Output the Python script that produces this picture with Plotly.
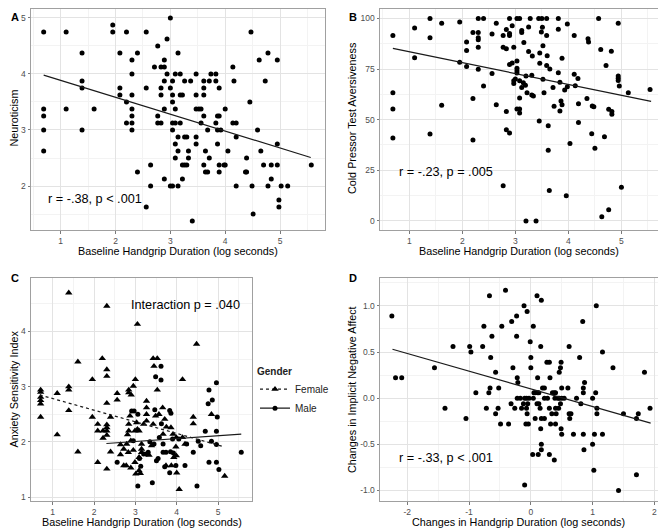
import plotly.graph_objects as go

# ---------------- Panel A: Neuroticism vs baseline handgrip ----------------
a_x = [0.69, 0.69, 0.69, 0.69, 0.69,
       1.10, 1.10,
       1.39, 1.39, 1.39, 1.39,
       1.61,
       1.95, 1.95,
       2.08, 2.08, 2.08,
       2.20, 2.20, 2.20,
       2.30, 2.30, 2.30, 2.30, 2.30, 2.30, 2.30,
       2.40, 2.40,
       2.56, 2.56, 2.56,
       2.64, 2.64,
       2.71,
       2.77, 2.77, 2.77,
       2.83, 2.83, 2.83, 2.83,
       2.89, 2.89, 2.89, 2.89, 2.89,
       2.94, 2.94,
       3.00, 3.00, 3.00,
       3.04, 3.04, 3.04, 3.04, 3.04, 3.04,
       3.09, 3.09, 3.09, 3.09, 3.09,
       3.14, 3.14, 3.14, 3.14,
       3.18, 3.18, 3.18,
       3.22, 3.22, 3.22,
       3.26, 3.26, 3.26,
       3.30, 3.30,
       3.33, 3.33,
       3.37,
       3.40,
       3.47, 3.47, 3.47, 3.47, 3.47,
       3.52,
       3.56, 3.56,
       3.61, 3.61, 3.61, 3.61, 3.61,
       3.64, 3.64,
       3.68, 3.68,
       3.71, 3.71,
       3.74,
       3.83, 3.83, 3.83,
       3.86, 3.86, 3.86,
       3.89, 3.89, 3.89, 3.89,
       3.92,
       3.98,
       4.00, 4.00,
       4.05,
       4.14, 4.14,
       4.16,
       4.20, 4.20, 4.20,
       4.37,
       4.39, 4.39,
       4.45, 4.47, 4.49, 4.51, 4.59, 4.62, 4.65, 4.70, 4.73,
       4.78, 4.78,
       4.84, 4.84,
       4.95, 4.95, 4.95,
       4.98, 4.98,
       5.02, 5.14, 5.57]
a_y = [4.75, 3.375, 3.25, 3.0, 2.625,
       4.75, 3.375,
       4.375, 3.875, 3.75, 3.0,
       3.375,
       4.875, 4.75,
       4.375, 3.75, 3.625,
       4.75, 3.5, 3.125,
       4.25, 4.0, 3.625, 3.375, 3.25, 3.125, 3.0,
       4.375, 2.25,
       4.75, 3.75, 1.625,
       2.375, 2.0,
       4.125,
       4.5, 3.25, 3.125,
       4.125, 3.75, 3.625, 3.125,
       4.25, 4.125, 3.875, 3.375, 2.125,
       4.625, 4.0,
       5.0, 3.75, 2.0,
       3.875, 3.625, 3.5, 3.125, 3.0, 2.0,
       4.0, 3.375, 3.125, 2.75, 2.5,
       4.375, 2.875, 2.625, 2.0,
       4.0, 3.625, 3.125,
       3.625, 2.375, 2.125,
       3.875, 2.875, 2.375,
       2.875, 2.375,
       2.625, 2.5,
       3.875,
       1.375,
       4.0, 3.625, 3.375, 2.875, 2.75,
       3.375,
       3.375, 3.125,
       3.875, 3.75, 3.625, 3.25, 2.375,
       2.625, 2.25,
       2.25, 3.0,
       3.875, 2.5,
       4.0,
       4.0, 3.875, 3.125,
       3.25, 3.0, 2.75,
       3.75, 3.25, 2.375, 2.25,
       3.0,
       2.375,
       3.375, 2.375,
       2.625,
       4.125, 3.125,
       3.875,
       3.125, 2.875, 2.0,
       2.25,
       2.5, 2.25,
       3.5, 4.75, 2.0, 1.5, 3.0, 4.25, 2.625, 2.375, 3.875,
       4.375, 2.0,
       2.375, 2.125,
       4.25, 2.75, 2.375,
       1.75, 1.625,
       2.0, 2.0, 2.375]
a_fit_x = [0.69, 5.56]
a_fit_y = [3.98, 2.51]

# ---------------- Panel B: Cold pressor aversiveness ----------------
b_x = [0.69, 0.69, 0.69, 0.69,
       1.10, 1.10,
       1.39, 1.39, 1.39,
       1.61, 1.61,
       1.95, 1.95,
       2.08, 2.08, 2.08,
       2.20, 2.20, 2.20,
       2.30, 2.30, 2.30, 2.30, 2.30, 2.30,
       2.40, 2.40,
       2.56, 2.56,
       2.64, 2.64,
       2.77, 2.77, 2.77,
       2.83, 2.83, 2.83, 2.83,
       2.89, 2.89, 2.89, 2.89, 2.89,
       2.94, 2.94,
       2.97, 2.97, 2.97,
       3.00,
       3.03, 3.03, 3.03, 3.03, 3.03, 3.03,
       3.08, 3.08, 3.08, 3.08, 3.08,
       3.12, 3.12, 3.12,
       3.15, 3.16, 3.19,
       3.20, 3.20,
       3.22,
       3.25, 3.25,
       3.28,
       3.31, 3.31,
       3.32, 3.34, 3.39, 3.44, 3.45,
       3.46, 3.46,
       3.49, 3.50, 3.51,
       3.52, 3.52,
       3.54,
       3.59, 3.59, 3.59,
       3.60,
       3.62, 3.62,
       3.64, 3.65, 3.71, 3.73,
       3.81, 3.81, 3.81,
       3.84, 3.84,
       3.86,
       3.88, 3.88,
       3.93, 3.96,
       3.98, 3.98,
       4.03,
       4.11, 4.11,
       4.13, 4.18,
       4.19, 4.19,
       4.35, 4.37, 4.38, 4.44, 4.45, 4.48, 4.50, 4.57, 4.61, 4.63, 4.68, 4.71,
       4.76, 4.76,
       4.81,
       4.82, 4.82,
       4.94, 4.94, 4.94, 4.94,
       4.96, 5.00, 5.13, 5.54]
b_y = [91.5, 63.3, 55.3, 40.9,
       95.3, 80.6,
       100, 90.5, 42.9,
       97.6, 57.1,
       98.2, 78.3,
       88.3, 84.2, 76.3,
       93.1, 60.5, 40.0,
       100, 93.1, 90.4, 89.4, 85.8, 74.9,
       100, 66.6,
       92.3, 72.8,
       97.6, 57.3,
       91.5, 85.8, 17.3,
       94.5, 85.0, 54.0, 45.0,
       100, 92.6, 91.5, 77.2, 43.4,
       96.4, 78.0,
       85.8, 69.2, 67.9,
       70.1,
       100, 79.0, 75.4, 74.2, 73.1, 55.3,
       100, 69.2, 60.7, 55.3, 53.3,
       94.0, 93.1, 65.9,
       68.2, 88.1, 67.0,
       71.5, 0.0,
       63.3,
       95.8, 83.7,
       100,
       71.9, 62.2,
       81.4, 61.7, 0.0, 100, 49.3,
       82.9, 77.8,
       93.3, 100, 95.6,
       86.5, 70.0,
       63.3,
       100, 91.5, 76.7,
       81.6,
       47.0, 34.9,
       15.0, 75.0, 65.9, 56.6,
       100, 94.6, 73.2,
       68.5, 54.3,
       59.2,
       80.3, 57.3,
       64.6, 12.4,
       97.2, 66.2,
       38.2,
       91.5, 72.4,
       66.7, 70.3,
       57.9, 48.6,
       60.5, 90.0, 88.4, 43.1, 56.8, 56.4, 35.9, 100, 84.7, 2.0, 41.6, 76.7,
       55.1, 5.5,
       83.8,
       54.0, 52.7,
       97.6, 71.5, 70.5, 69.3,
       66.6, 16.6, 63.3, 64.9]
b_fit_x = [0.69, 5.56]
b_fit_y = [85.2, 59.0]

# ---------------- Panel C: Anxiety sensitivity by gender ----------------
c_f_x = [0.71, 0.71, 0.71, 0.71, 0.71, 0.71,
         1.11, 1.11,
         1.39, 1.39, 1.39, 1.39,
         1.61, 1.61,
         1.96, 1.96,
         2.09, 2.09, 2.09,
         2.20,
         2.22, 2.22,
         2.31, 2.31, 2.31, 2.31, 2.31, 2.31, 2.31, 2.31, 2.31,
         2.40, 2.40,
         2.56, 2.56,
         2.64, 2.64,
         2.72, 2.72,
         2.78, 2.79, 2.81, 2.83,
         2.84, 2.84, 2.84, 2.84,
         2.87,
         2.89, 2.89,
         2.90,
         2.95, 2.95,
         2.99, 2.99,
         3.00, 3.01, 3.03,
         3.05, 3.05,
         3.09, 3.09, 3.09,
         3.12,
         3.15, 3.15, 3.15,
         3.20,
         3.27, 3.27, 3.27, 3.27,
         3.33, 3.39,
         3.43, 3.43, 3.45, 3.49,
         3.53, 3.53,
         3.57, 3.66, 3.67, 3.71, 3.74, 3.75,
         3.86, 3.87, 3.91, 3.93, 3.98, 3.99, 3.99, 4.00, 4.06,
         4.14, 4.14, 4.20,
         4.40, 4.40, 4.48, 4.84, 5.16]
c_f_y = [2.94, 2.90, 2.81, 2.75, 2.69, 2.45,
         2.88, 2.13,
         4.70, 3.00, 2.94, 2.57,
         3.45, 1.82,
         3.13, 2.45,
         2.32, 2.20, 1.63,
         3.51,
         2.20, 2.07,
         4.46, 3.31, 3.19, 2.70, 2.31, 2.26, 2.20, 2.12, 1.51,
         2.45, 1.82,
         2.88, 2.76,
         1.95, 1.77,
         1.87, 1.57,
         1.57, 1.96, 2.13, 1.81,
         2.94, 2.89, 2.32, 2.20,
         2.47,
         2.02, 1.53,
         2.85,
         3.01, 1.85,
         2.20, 1.63,
         3.13, 1.42, 2.35,
         4.13, 2.23,
         2.20, 1.72, 1.48,
         1.43,
         1.96, 1.87, 1.81,
         2.32,
         2.74, 2.62, 2.50, 2.38,
         1.76, 1.93,
         3.51, 2.32, 3.37, 2.47,
         3.51, 2.94,
         2.50, 2.62, 2.14, 2.41, 1.57, 2.27,
         2.26, 1.57, 2.14, 1.72, 1.91, 2.08, 1.75, 1.44, 1.14,
         3.13, 2.08, 1.96,
         2.45, 2.33, 3.77, 2.50, 1.38]
c_m_x = [2.56, 2.91, 2.95, 2.97, 3.06, 3.06, 3.10, 3.13, 3.20, 3.27, 3.31, 3.35,
         3.41, 3.45, 3.47, 3.49, 3.51, 3.55, 3.58, 3.62, 3.62, 3.63, 3.67, 3.67,
         3.71, 3.74, 3.83, 3.83, 3.85, 3.86, 3.90, 3.92, 3.98, 4.05, 4.20, 4.24,
         4.40, 4.49, 4.52, 4.58, 4.69, 4.76, 4.78, 4.78, 4.84, 4.86, 4.96, 4.96,
         4.96, 4.96, 4.98, 5.02, 5.56]
c_m_y = [1.63, 2.56, 2.02, 2.56, 2.50, 1.20, 1.70, 1.56, 1.78, 1.78, 1.81, 2.00,
         1.26, 1.96, 2.58, 3.18, 1.66, 1.70, 2.08, 3.37, 3.12, 2.33, 1.96, 1.81,
         1.55, 1.81, 2.57, 1.44, 1.82, 2.52, 2.05, 1.80, 1.57, 2.05, 1.57, 1.96,
         1.81, 1.20, 2.01, 1.93, 2.19, 2.69, 2.94, 1.63, 2.01, 2.76, 3.07, 2.19,
         1.95, 1.63, 2.45, 1.50, 1.81]
c_f_fit_x = [0.69, 5.15]
c_f_fit_y = [2.85, 1.91]
c_m_fit_x = [2.30, 5.56]
c_m_fit_y = [1.97, 2.14]

# ---------------- Panel D: Changes ----------------
d_x = [-2.25, -2.19, -2.09, -1.56, -1.39, -1.26, -1.05, -0.99, -0.97, -0.89,
       -0.78, -0.76, -0.72, -0.67, -0.68, -0.66, -0.65, -0.63, -0.57, -0.57,
       -0.53, -0.52, -0.49, -0.47, -0.41, -0.36, -0.32, -0.31, -0.29, -0.26,
       -0.23, -0.23, -0.22, -0.21, -0.22, -0.17, -0.10, -0.07, -0.03,
       0.10, 0.17, -0.11, -0.06, 0.04, -0.01, 0.16, 0.00, 0.00, 0.26,
       0.30, 0.49, 0.48, 0.46, 0.11, 0.31, 0.19, 0.22, 0.07, 0.11,
       0.13, 0.35, 0.38, 0.40, 0.50, 0.60, 0.04, 0.22, 0.27, 0.39,
       0.44, 0.46, 0.50, 0.54, 0.74, 0.85, 0.85, 0.87, 1.00, 1.05,
       0.81, -0.05, 0.10, 0.13, 0.48, -0.07, 0.15, 0.30, 0.40, 0.45,
       1.07, 1.07, -0.06, 0.34, 0.41, 0.62, 0.65, 0.63, 0.07, 0.17,
       0.22, -0.08, -0.04, 0.32, 0.40, 0.16, 0.49, 0.50, 0.69, 0.85,
       1.03, 1.16, 0.17, 0.17, 0.86, 1.00, 0.03, 0.12, 0.30, 0.38,
       1.02, -0.10, 1.42, 1.71, 1.06, 0.84, 0.79, 1.16, 1.33, 1.84,
       1.50, 1.71, 1.74, 1.93, 0.62, 0.05, -0.15, -0.12]
d_y = [0.89, 0.22, 0.22, 0.33, -0.11, 0.56, -0.22, 0.56, 0.50, 0.06,
       0.56, 0.78, -0.11, 1.11, 0.06, 0.11, 0.44, 0.67, 0.28, -0.17,
       -0.11, 0.11, -0.28, 0.78, 1.17, -0.28, -0.06, 0.83, 0.33, -0.11,
       0.89, 0.67, 0.22, 0.17, 0.00, 0.00, 0.00, 0.00, 0.00,
       1.11, 1.06, 1.00, 0.94, 0.78, 0.61, 0.56, 0.44, 0.33, 0.39,
       0.39, 0.39, 0.33, 0.28, 0.22, 0.22, 0.11, 0.11, 0.06, 0.06,
       0.06, 0.06, 0.06, 0.06, 0.11, 0.11, 0.00, 0.00, 0.00, 0.00,
       0.00, 0.00, 0.00, 0.00, 0.00, 0.11, 0.06, 0.17, 0.00, 0.06,
       -0.06, -0.06, -0.06, -0.06, -0.06, -0.11, -0.11, -0.11, -0.11, -0.11,
       -0.11, -0.17, -0.17, -0.17, -0.17, -0.17, -0.17, -0.22, -0.22, -0.22,
       -0.22, -0.28, -0.28, -0.28, -0.28, -0.33, -0.33, -0.39, -0.39, -0.39,
       -0.39, -0.39, -0.50, -0.56, -0.56, -0.50, -0.61, -0.61, -0.61, -0.67,
       -0.78, -0.94, -1.00, -0.83, 1.00, 0.83, 0.44, 0.50, 0.33, 0.28,
       -0.17, -0.22, -0.17, -0.11, 0.56, 0.06, -0.11, -0.06]
d_fit_x = [-2.24, 1.94]
d_fit_y = [0.53, -0.27]

# ---------------- tick labels ----------------
x_ticks_log = [1, 2, 3, 4, 5]
x_ticks_log_text = ["1", "2", "3", "4", "5"]
a_yticks = [2, 3, 4, 5]
a_yticks_text = ["2", "3", "4", "5"]
b_yticks = [0, 25, 50, 75, 100]
b_yticks_text = ["0", "25", "50", "75", "100"]
c_yticks = [1, 2, 3, 4]
c_yticks_text = ["1", "2", "3", "4"]
d_xticks = [-2, -1, 0, 1, 2]
d_xticks_text = ["-2", "-1", "0", "1", "2"]
d_yticks = [-1.0, -0.5, 0.0, 0.5, 1.0]
d_yticks_text = ["-1.0", "-0.5", "0.0", "0.5", "1.0"]

FONT = "Liberation Sans, Arial, Helvetica, sans-serif"
# the page body has an 8px default margin, so the figure is drawn 8px in
PAGE_OFF = 8
W, H = 666 - PAGE_OFF, 531 - PAGE_OFF


def px_x(p):
    return (p - PAGE_OFF) / W


def px_y(p):
    return 1 - (p - PAGE_OFF) / H


def axis(domain, rng, tv, tt, minor_dtick, anchor):
    return dict(domain=domain, range=rng, anchor=anchor,
                tickmode="array", tickvals=tv, ticktext=tt,
                showgrid=True, gridcolor="#E3E3E3", gridwidth=1, zeroline=False,
                showline=True, mirror=True, linecolor="#A0A0A0", linewidth=1,
                ticks="outside", ticklen=2.5, tickcolor="#7A7A7A", tickwidth=1,
                tickfont=dict(size=8.5, color="#4D4D4D", family=FONT),
                minor=dict(tickmode="linear", tick0=0, dtick=minor_dtick,
                           showgrid=True, gridcolor="#F3F3F3", ticks=""),
                fixedrange=True)


fig = go.Figure()
mk = dict(color="black", size=5)
line_style = dict(color="#1a1a1a", width=1.2)

fig.add_trace(go.Scatter(x=a_x, y=a_y, mode="markers", marker=dict(mk, symbol="circle"),
                         xaxis="x", yaxis="y", showlegend=False))
fig.add_trace(go.Scatter(x=a_fit_x, y=a_fit_y, mode="lines", line=line_style,
                         xaxis="x", yaxis="y", showlegend=False))

fig.add_trace(go.Scatter(x=b_x, y=b_y, mode="markers", marker=dict(mk, symbol="circle"),
                         xaxis="x2", yaxis="y2", showlegend=False))
fig.add_trace(go.Scatter(x=b_fit_x, y=b_fit_y, mode="lines", line=line_style,
                         xaxis="x2", yaxis="y2", showlegend=False))

fig.add_trace(go.Scatter(x=c_f_x, y=c_f_y, mode="markers",
                         marker=dict(color="black", size=6.5, symbol="triangle-up"),
                         xaxis="x3", yaxis="y3", showlegend=False))
fig.add_trace(go.Scatter(x=c_m_x, y=c_m_y, mode="markers", marker=dict(mk, symbol="circle"),
                         xaxis="x3", yaxis="y3", showlegend=False))
fig.add_trace(go.Scatter(x=c_f_fit_x, y=c_f_fit_y, mode="lines",
                         line=dict(color="#1a1a1a", width=1.2, dash="dot"),
                         xaxis="x3", yaxis="y3", showlegend=False))
fig.add_trace(go.Scatter(x=c_m_fit_x, y=c_m_fit_y, mode="lines", line=line_style,
                         xaxis="x3", yaxis="y3", showlegend=False))
# legend entries
fig.add_trace(go.Scatter(x=[None], y=[None], mode="lines+markers", name="Female",
                         line=dict(color="#1a1a1a", width=1.2, dash="dot"),
                         marker=dict(color="black", size=6.5, symbol="triangle-up"),
                         xaxis="x3", yaxis="y3"))
fig.add_trace(go.Scatter(x=[None], y=[None], mode="lines+markers", name="Male",
                         line=line_style, marker=dict(color="black", size=5, symbol="circle"),
                         xaxis="x3", yaxis="y3"))

fig.add_trace(go.Scatter(x=d_x, y=d_y, mode="markers", marker=dict(mk, symbol="circle"),
                         xaxis="x4", yaxis="y4", showlegend=False))
fig.add_trace(go.Scatter(x=d_fit_x, y=d_fit_y, mode="lines", line=line_style,
                         xaxis="x4", yaxis="y4", showlegend=False))

top_dom = [px_y(230), px_y(8.5)]
bot_dom = [px_y(502), px_y(278)]
left_dom = [px_x(31), px_x(325)]
right_dom = [px_x(380), px_x(658)]
c_dom = [px_x(31), px_x(252)]

annotations = []
# panel letters
for letter, xp, yp, xa, ya in [("A", 8.5, 8.5, "left", "top"), ("B", 353, 8.5, "center", "top"),
                               ("C", 8.5, 278.5, "left", "middle"),
                               ("D", 353, 278.5, "center", "middle")]:
    annotations.append(dict(text="<b>%s</b>" % letter, x=px_x(xp), y=px_y(yp), xref="paper",
                            yref="paper", showarrow=False, xanchor=xa, yanchor=ya,
                            font=dict(size=11, color="black", family=FONT)))
# axis titles
xt = "Baseline Handgrip Duration (log seconds)"
for text, xp, yp, ang in [
        (xt, 178, 251, 0), (xt, 519, 251, 0), (xt, 141.5, 523, 0),
        ("Changes in Handgrip Duration (log seconds)", 519, 523, 0),
        ("Neuroticism", 14, 118, -90), ("Cold Pressor Test Aversiveness", 351.5, 118, -90),
        ("Anxiety Sensitivity Index", 14, 390, -90),
        ("Changes in Implicit Negative Affect", 351.5, 390, -90)]:
    annotations.append(dict(text=text, x=px_x(xp), y=px_y(yp), xref="paper", yref="paper",
                            showarrow=False, xanchor="center", yanchor="middle", textangle=ang,
                            font=dict(size=10.8, color="black", family=FONT)))
# statistics text
for text, xr, yr, xv, yv in [("r = -.38, p < .001", "x", "y", 0.73, 1.775),
                             ("r = -.23, p = .005", "x2", "y2", 0.774, 24.0),
                             ("Interaction p = .040", "x3", "y3", 2.84, 4.475),
                             ("r = -.33, p < .001", "x4", "y4", -2.17, -0.647)]:
    annotations.append(dict(text=text, x=xv, y=yv, xref=xr, yref=yr, showarrow=False,
                            xanchor="left", yanchor="middle",
                            font=dict(size=12.7, color="black", family=FONT)))

fig.update_layout(
    width=W, height=H, margin=dict(l=0, r=0, t=0, b=0),
    paper_bgcolor="white", plot_bgcolor="white",
    font=dict(family=FONT, color="black"),
    xaxis=axis(left_dom, [0.459, 5.82], x_ticks_log, x_ticks_log_text, 0.5, "y"),
    yaxis=axis(top_dom, [1.213, 5.15], a_yticks, a_yticks_text, 0.5, "x"),
    xaxis2=axis(right_dom, [0.447, 5.69], x_ticks_log, x_ticks_log_text, 0.5, "y2"),
    yaxis2=axis(top_dom, [-4.57, 104.4], b_yticks, b_yticks_text, 12.5, "x2"),
    xaxis3=axis(c_dom, [0.477, 5.82], x_ticks_log, x_ticks_log_text, 0.5, "y3"),
    yaxis3=axis(bot_dom, [0.927, 4.968], c_yticks, c_yticks_text, 0.5, "x3"),
    xaxis4=axis(right_dom, [-2.442, 2.059], d_xticks, d_xticks_text, 0.5, "y4"),
    yaxis4=axis(bot_dom, [-1.115, 1.302], d_yticks, d_yticks_text, 0.25, "x4"),
    legend=dict(x=px_x(255), y=px_y(362), xanchor="left", yanchor="top",
                title=dict(text="<b>Gender</b>", font=dict(size=10, family=FONT)),
                font=dict(size=10, color="#222222", family=FONT),
                itemwidth=30, bgcolor="rgba(0,0,0,0)", tracegroupgap=0),
    annotations=annotations,
    showlegend=True,
)

fig.write_html("out.html")
